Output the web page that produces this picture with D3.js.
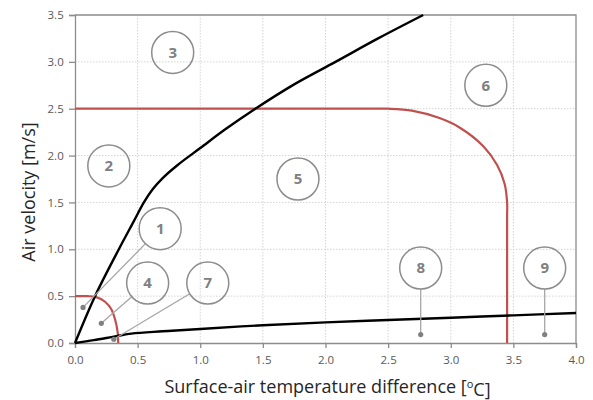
<!DOCTYPE html>
<html>
<head>
<meta charset="utf-8">
<script src="https://cdn.jsdelivr.net/npm/d3@7"></script>
<style>
  body { margin: 0; background: #fff; }
  text { font-family: "Open Sans", sans-serif; }
</style>
</head>
<body>
<svg class="chart" width="593" height="400"></svg>
<script>

// Tick values.
var xTicks = [0, 0.5, 1, 1.5, 2, 2.5, 3, 3.5, 4];
var yTicks = [0, 0.5, 1, 1.5, 2, 2.5, 3, 3.5];

// Black boundary curves.
var upperCurve = [[0, 0], [0.16, 0.5], [0.35, 1.0], [0.47, 1.3], [0.55, 1.5], [0.62, 1.64],
  [0.7, 1.76], [0.82, 1.9], [1.0, 2.08], [1.2, 2.28], [1.44, 2.5], [1.75, 2.76], [2.08, 3.0],
  [2.42, 3.25], [2.78, 3.5]];
var lowerCurve = [[0, 0], [0.15, 0.03], [0.3, 0.065], [0.45, 0.1], [0.7, 0.125], [1.0, 0.15],
  [1.5, 0.19], [2.0, 0.22], [2.5, 0.245], [3.0, 0.27], [3.5, 0.295], [4.0, 0.32]];

// Red boundary curves.
var smallRed = [[0, 0.5], [0.1, 0.5], [0.17, 0.49], [0.24, 0.44], [0.29, 0.36],
  [0.32, 0.25], [0.34, 0.12], [0.345, 0]];
var bigRed = [[0, 2.5], [2.35, 2.5], [2.5, 2.5], [2.69, 2.48], [2.91, 2.4], [3.07, 2.3],
  [3.26, 2.1], [3.37, 1.9], [3.43, 1.7], [3.45, 1.5], [3.45, 1.35], [3.45, 0]];

// Zone labels: number, circle centre, optional pointer dot.
var zoneNames = ["1", "2", "3", "4", "5", "6", "7", "8", "9"];
var zoneCentres = [[0.68, 1.22], [0.27, 1.89], [0.78, 3.1], [0.58, 0.64], [1.78, 1.75],
  [3.28, 2.75], [1.06, 0.64], [2.76, 0.8], [3.75, 0.8]];
var zoneDots = [[0.064, 0.38], null, null, [0.21, 0.21], null, null, [0.31, 0.04],
  [2.76, 0.09], [3.75, 0.09]];

var margin = {top: 15, right: 17, bottom: 57, left: 75},
    width = 593 - margin.left - margin.right,
    height = 400 - margin.top - margin.bottom;

var svg = d3.select(".chart")
  .append("g")
    .attr("transform", "translate(" + margin.left + "," + margin.top + ")");

var x = d3.scaleLinear().domain([0, 4]).range([0, width]);
var y = d3.scaleLinear().domain([0, 3.5]).range([height, 0]);

// Dotted grid.
svg.append("g")
    .selectAll("line")
    .data(xTicks.slice(1, -1))
    .enter().append("line")
      .attr("x1", function(d) { return x(d); })
      .attr("x2", function(d) { return x(d); })
      .attr("y1", 0)
      .attr("y2", height)
      .attr("stroke", "#d4d4d4")
      .attr("stroke-dasharray", "1.5,1.5");

svg.append("g")
    .selectAll("line")
    .data(yTicks.slice(1, -1))
    .enter().append("line")
      .attr("x1", 0)
      .attr("x2", width)
      .attr("y1", function(d) { return y(d); })
      .attr("y2", function(d) { return y(d); })
      .attr("stroke", "#d4d4d4")
      .attr("stroke-dasharray", "1.5,1.5");

// Axes.
var xAxis = svg.append("g")
    .attr("transform", "translate(0," + height + ")")
    .call(d3.axisBottom(x).tickValues(xTicks).tickFormat(d3.format(".1f")).tickSizeOuter(0).tickSize(5));

var yAxis = svg.append("g")
    .call(d3.axisLeft(y).tickValues(yTicks).tickFormat(d3.format(".1f")).tickSizeOuter(0).tickSize(6));

[xAxis, yAxis].forEach(function(a) {
  a.selectAll("path, line").attr("stroke", "#8c8c8c").attr("stroke-width", 1.3);
  a.selectAll("text").attr("fill", "#595959").style("font-size", "11.5px");
});
xAxis.selectAll("text").attr("dy", "1.1em");
yAxis.selectAll("text").attr("dx", "-0.2em");

// Top and right frame.
svg.append("path")
    .attr("d", "M0,0H" + width + "V" + height)
    .attr("fill", "none")
    .attr("stroke", "#8c8c8c")
    .attr("stroke-width", 1.3);

var line = d3.line()
    .x(function(d) { return x(d[0]); })
    .y(function(d) { return y(d[1]); })
    .curve(d3.curveCatmullRom.alpha(0.5));

// Boundary curves.
svg.append("path").datum(bigRed)
    .attr("d", line)
    .attr("fill", "none").attr("stroke", "#c0504d").attr("stroke-width", 2.2);
svg.append("path").datum(smallRed)
    .attr("d", line)
    .attr("fill", "none").attr("stroke", "#c0504d").attr("stroke-width", 2.2);
svg.append("path").datum(upperCurve)
    .attr("d", line)
    .attr("fill", "none").attr("stroke", "#000").attr("stroke-width", 2.4);
svg.append("path").datum(lowerCurve)
    .attr("d", line)
    .attr("fill", "none").attr("stroke", "#000").attr("stroke-width", 2.4);

// Zone labels.
var r = 21;
zoneNames.forEach(function(name, i) {
  var cx = x(zoneCentres[i][0]), cy = y(zoneCentres[i][1]);
  var dot = zoneDots[i];
  if (dot) {
    var dx = x(dot[0]), dy = y(dot[1]);
    var ang = Math.atan2(dy - cy, dx - cx);
    svg.append("line")
        .attr("x1", cx + r * Math.cos(ang))
        .attr("y1", cy + r * Math.sin(ang))
        .attr("x2", dx)
        .attr("y2", dy)
        .attr("stroke", "#a6a6a6")
        .attr("stroke-width", 1.3);
    svg.append("circle")
        .attr("cx", dx).attr("cy", dy).attr("r", 2.6)
        .attr("fill", "#808080");
  }
  svg.append("circle")
      .attr("cx", cx).attr("cy", cy).attr("r", r)
      .attr("fill", "none")
      .attr("stroke", "#8c8c8c")
      .attr("stroke-width", 1.5);
  svg.append("text")
      .attr("x", cx).attr("y", cy)
      .attr("dy", "0.36em")
      .attr("text-anchor", "middle")
      .attr("fill", "#808080")
      .style("font-size", "15px")
      .style("font-weight", "bold")
      .text(name);
});

// Axis titles.
var xTitle = svg.append("text")
    .attr("x", width / 2 + 2)
    .attr("y", height + 50)
    .attr("text-anchor", "middle")
    .attr("fill", "#262626")
    .style("font-size", "18px");
xTitle.append("tspan").text("Surface-air temperature difference [");
xTitle.append("tspan").attr("dy", "-0.45em").style("font-size", "11px").text("o");
xTitle.append("tspan").attr("dy", "0.45em").text("C]");

svg.append("text")
    .attr("transform", "rotate(-90)")
    .attr("x", -(192 - margin.top))
    .attr("y", -40)
    .attr("text-anchor", "middle")
    .attr("fill", "#262626")
    .style("font-size", "18px")
    .text("Air velocity [m/s]");

</script>
</body>
</html>
